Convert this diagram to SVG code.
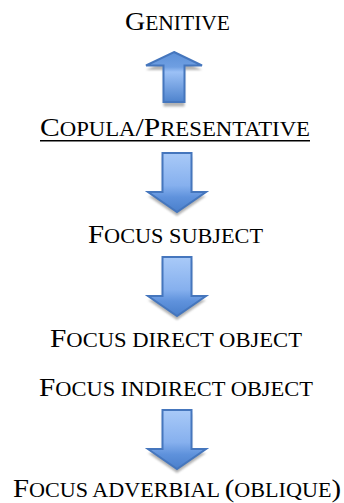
<svg xmlns="http://www.w3.org/2000/svg" width="344" height="503" viewBox="0 0 344 503">
  <defs>
    <linearGradient id="gDown" x1="0" y1="0" x2="0" y2="1">
      <stop offset="0" stop-color="#a9caf8"/>
      <stop offset="0.55" stop-color="#86b0ee"/>
      <stop offset="0.75" stop-color="#5f92dc"/>
      <stop offset="1" stop-color="#4a7fcb"/>
    </linearGradient>
    <linearGradient id="gUp" x1="0" y1="0" x2="0" y2="1">
      <stop offset="0" stop-color="#5c90d8"/>
      <stop offset="0.3" stop-color="#6f9fe2"/>
      <stop offset="0.4" stop-color="#9cc1f6"/>
      <stop offset="1" stop-color="#4e83cd"/>
    </linearGradient>
    <filter id="shadow" x="-30%" y="-30%" width="160%" height="160%">
      <feGaussianBlur stdDeviation="1.2"/>
    </filter>
    <path id="downArrow" d="M-14.5,0 H14.5 V39 H29 L0,59 L-29,39 H-14.5 Z"/>
    <path id="upArrow" d="M0,0 L28,13.5 H10.5 V50 H-10.5 V13.5 H-28 Z"/>
  </defs>
  <style>
    text { font-family: "Liberation Serif", "Times New Roman", serif; fill: #000; }
    .cap { font-size: 26px; }
    .sc { font-size: 20px; }
    .shadowShape { fill: #9a9a9a; opacity: 0.75; filter: url(#shadow); }
    .down { fill: url(#gDown); stroke: #4576bd; stroke-width: 2; stroke-linejoin: miter; }
    .up { fill: url(#gUp); stroke: #4576bd; stroke-width: 2; stroke-linejoin: miter; }
  </style>

  <g id="connectors">
    <g id="arrow-up" transform="translate(174,52)">
      <use href="#upArrow" class="shadowShape" transform="translate(0,4.5)"/>
      <use href="#upArrow" class="up"/>
    </g>
    <g id="arrow-down-1" transform="translate(177,153)">
      <use href="#downArrow" class="shadowShape" transform="translate(0,4)"/>
      <use href="#downArrow" class="down"/>
    </g>
    <g id="arrow-down-2" transform="translate(177,257)">
      <use href="#downArrow" class="shadowShape" transform="translate(0,4)"/>
      <use href="#downArrow" class="down"/>
    </g>
    <g id="arrow-down-3" transform="translate(177,410)">
      <use href="#downArrow" class="shadowShape" transform="translate(0,4)"/>
      <use href="#downArrow" class="down"/>
    </g>
  </g>

  <g id="node-genitive">
    <text x="177.5" y="29.5" text-anchor="middle" textLength="105" lengthAdjust="spacingAndGlyphs"><tspan class="cap">G</tspan><tspan class="sc">ENITIVE</tspan></text>
  </g>
  <g id="node-copula">
    <text x="175" y="135.5" text-anchor="middle" textLength="270" lengthAdjust="spacingAndGlyphs"><tspan class="cap">C</tspan><tspan class="sc">OPULA</tspan><tspan class="cap">/P</tspan><tspan class="sc">RESENTATIVE</tspan></text>
    <line x1="40" y1="140.7" x2="310" y2="140.7" stroke="#000" stroke-width="1.5"/>
  </g>
  <g id="node-focus-subject">
    <text x="175.5" y="242.5" text-anchor="middle" textLength="175" lengthAdjust="spacingAndGlyphs"><tspan class="cap">F</tspan><tspan class="sc">OCUS SUBJECT</tspan></text>
  </g>
  <g id="node-focus-direct-object">
    <text x="176" y="347" text-anchor="middle" textLength="252" lengthAdjust="spacingAndGlyphs"><tspan class="cap">F</tspan><tspan class="sc">OCUS DIRECT OBJECT</tspan></text>
  </g>
  <g id="node-focus-indirect-object">
    <text x="176" y="395.7" text-anchor="middle" textLength="274" lengthAdjust="spacingAndGlyphs"><tspan class="cap">F</tspan><tspan class="sc">OCUS INDIRECT OBJECT</tspan></text>
  </g>
  <g id="node-focus-adverbial">
    <text x="177" y="497.3" text-anchor="middle" textLength="328" lengthAdjust="spacingAndGlyphs"><tspan class="cap">F</tspan><tspan class="sc">OCUS ADVERBIAL </tspan><tspan class="cap">(</tspan><tspan class="sc">OBLIQUE</tspan><tspan class="cap">)</tspan></text>
  </g>
</svg>
